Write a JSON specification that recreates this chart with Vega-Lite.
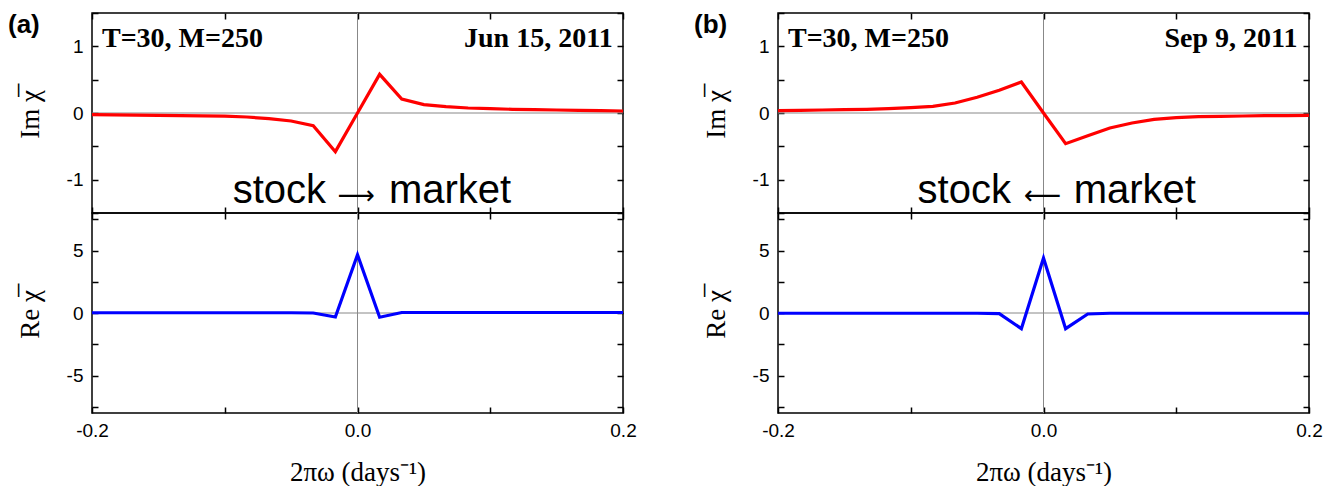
{
  "$schema": "https://vega.github.io/schema/vega-lite/v6.json",
  "padding": {"left": 7, "top": 3, "right": 0, "bottom": 0},
  "background": "white",
  "datasets": {
    "one": [{}],
    "imA": [
      {"w": -0.2, "v": -0.025}, {"w": -0.18333, "v": -0.028}, {"w": -0.16667, "v": -0.031}, {"w": -0.15, "v": -0.035},
      {"w": -0.13333, "v": -0.038}, {"w": -0.11667, "v": -0.042}, {"w": -0.1, "v": -0.047}, {"w": -0.08333, "v": -0.06},
      {"w": -0.06667, "v": -0.085}, {"w": -0.05, "v": -0.12}, {"w": -0.03333, "v": -0.19}, {"w": -0.01667, "v": -0.58},
      {"w": 0, "v": 0}, {"w": 0.01667, "v": 0.58}, {"w": 0.03333, "v": 0.21}, {"w": 0.05, "v": 0.125},
      {"w": 0.06667, "v": 0.095}, {"w": 0.08333, "v": 0.075}, {"w": 0.1, "v": 0.065}, {"w": 0.11667, "v": 0.055},
      {"w": 0.13333, "v": 0.05}, {"w": 0.15, "v": 0.045}, {"w": 0.16667, "v": 0.04}, {"w": 0.18333, "v": 0.035},
      {"w": 0.2, "v": 0.03}
    ],
    "reA": [
      {"w": -0.2, "v": 0.02}, {"w": -0.18333, "v": 0.02}, {"w": -0.16667, "v": 0.02}, {"w": -0.15, "v": 0.02},
      {"w": -0.13333, "v": 0.02}, {"w": -0.11667, "v": 0.02}, {"w": -0.1, "v": 0.02}, {"w": -0.08333, "v": 0.02},
      {"w": -0.06667, "v": 0.02}, {"w": -0.05, "v": 0.02}, {"w": -0.03333, "v": 0.0}, {"w": -0.01667, "v": -0.32},
      {"w": 0, "v": 4.66}, {"w": 0.01667, "v": -0.34}, {"w": 0.03333, "v": 0.04}, {"w": 0.05, "v": 0.04},
      {"w": 0.06667, "v": 0.04}, {"w": 0.08333, "v": 0.04}, {"w": 0.1, "v": 0.04}, {"w": 0.11667, "v": 0.04},
      {"w": 0.13333, "v": 0.04}, {"w": 0.15, "v": 0.04}, {"w": 0.16667, "v": 0.04}, {"w": 0.18333, "v": 0.04},
      {"w": 0.2, "v": 0.04}
    ],
    "imB": [
      {"w": -0.2, "v": 0.035}, {"w": -0.18333, "v": 0.04}, {"w": -0.16667, "v": 0.045}, {"w": -0.15, "v": 0.05},
      {"w": -0.13333, "v": 0.055}, {"w": -0.11667, "v": 0.065}, {"w": -0.1, "v": 0.08}, {"w": -0.08333, "v": 0.1},
      {"w": -0.06667, "v": 0.15}, {"w": -0.05, "v": 0.235}, {"w": -0.03333, "v": 0.34}, {"w": -0.01667, "v": 0.465},
      {"w": 0, "v": 0}, {"w": 0.01667, "v": -0.46}, {"w": 0.03333, "v": -0.34}, {"w": 0.05, "v": -0.225},
      {"w": 0.06667, "v": -0.15}, {"w": 0.08333, "v": -0.095}, {"w": 0.1, "v": -0.07}, {"w": 0.11667, "v": -0.055},
      {"w": 0.13333, "v": -0.05}, {"w": 0.15, "v": -0.045}, {"w": 0.16667, "v": -0.04}, {"w": 0.18333, "v": -0.04},
      {"w": 0.2, "v": -0.035}
    ],
    "reB": [
      {"w": -0.2, "v": -0.02}, {"w": -0.18333, "v": -0.02}, {"w": -0.16667, "v": -0.02}, {"w": -0.15, "v": -0.02},
      {"w": -0.13333, "v": -0.02}, {"w": -0.11667, "v": -0.02}, {"w": -0.1, "v": -0.02}, {"w": -0.08333, "v": -0.02},
      {"w": -0.06667, "v": -0.02}, {"w": -0.05, "v": -0.02}, {"w": -0.03333, "v": -0.05}, {"w": -0.01667, "v": -1.25},
      {"w": 0, "v": 4.4}, {"w": 0.01667, "v": -1.25}, {"w": 0.03333, "v": -0.08}, {"w": 0.05, "v": -0.02},
      {"w": 0.06667, "v": -0.02}, {"w": 0.08333, "v": -0.02}, {"w": 0.1, "v": -0.02}, {"w": 0.11667, "v": -0.02},
      {"w": 0.13333, "v": -0.02}, {"w": 0.15, "v": -0.02}, {"w": 0.16667, "v": -0.02}, {"w": 0.18333, "v": -0.02},
      {"w": 0.2, "v": -0.02}
    ]
  },
  "columns": 2,
  "spacing": {"row": 0, "column": 155},
  "bounds": "flush",
  "concat": [
    {
      "width": 531, "height": 200,
      "resolve": {"axis": {"x": "independent", "y": "independent"}},
      "layer": [
        {"data": {"name": "one"}, "mark": {"type": "rule", "color": "#888888", "strokeWidth": 1},
         "encoding": {"x": {"datum": 0, "type": "quantitative", "scale": {"domain": [-0.2, 0.2], "nice": false, "zero": false},
           "axis": {"orient": "top", "values": [-0.2, -0.1, 0, 0.1, 0.2], "labels": false, "title": null}}}},
        {"data": {"name": "one"}, "mark": {"type": "rule", "color": "#888888", "strokeWidth": 1},
         "encoding": {"y": {"datum": 0, "type": "quantitative", "scale": {"domain": [-1.5, 1.5], "nice": false, "zero": false},
           "axis": {"orient": "right", "values": [-1.5, -1, -0.5, 0, 0.5, 1, 1.5], "labels": false, "title": null}}}},
        {"data": {"name": "imA"}, "mark": {"type": "line", "color": "#ff0000", "strokeWidth": 3.2},
         "encoding": {
           "x": {"field": "w", "type": "quantitative", "scale": {"domain": [-0.2, 0.2], "nice": false, "zero": false},
             "axis": {"orient": "bottom", "values": [-0.2, -0.1, 0, 0.1, 0.2], "labels": false, "title": null}},
           "y": {"field": "v", "type": "quantitative", "scale": {"domain": [-1.5, 1.5], "nice": false, "zero": false},
             "axis": {"orient": "left", "values": [-1.5, -1, -0.5, 0, 0.5, 1, 1.5],
               "labelExpr": "datum.value == 1 ? '1' : datum.value == 0 ? '0' : datum.value == -1 ? '-1' : ''",
               "title": "Im χ̅", "titleX": -62, "titleY": 101, "titleBaseline": "middle", "titleAlign": "center"}}}},
        {"data": {"name": "one"}, "mark": {"type": "text", "text": "(a)", "font": "Liberation Sans", "fontWeight": "bold", "fontSize": 26, "align": "left", "baseline": "alphabetic", "color": "#000"},
         "encoding": {"x": {"datum": -0.2633, "type": "quantitative", "axis": null, "scale": {"domain": [-0.2, 0.2], "nice": false, "zero": false}},
                      "y": {"datum": 1.2, "type": "quantitative", "axis": null, "scale": {"domain": [-1.5, 1.5], "nice": false, "zero": false}}}},
        {"data": {"name": "one"}, "mark": {"type": "text", "text": "T=30, M=250", "font": "Liberation Serif", "fontWeight": "bold", "fontSize": 28, "align": "left", "baseline": "alphabetic", "color": "#000"},
         "encoding": {"x": {"datum": -0.1925, "type": "quantitative", "axis": null, "scale": {"domain": [-0.2, 0.2], "nice": false, "zero": false}},
                      "y": {"datum": 0.995, "type": "quantitative", "axis": null, "scale": {"domain": [-1.5, 1.5], "nice": false, "zero": false}}}},
        {"data": {"name": "one"}, "mark": {"type": "text", "text": "Jun 15, 2011", "font": "Liberation Serif", "fontWeight": "bold", "fontSize": 28, "align": "right", "baseline": "alphabetic", "color": "#000"},
         "encoding": {"x": {"datum": 0.1922, "type": "quantitative", "axis": null, "scale": {"domain": [-0.2, 0.2], "nice": false, "zero": false}},
                      "y": {"datum": 0.995, "type": "quantitative", "axis": null, "scale": {"domain": [-1.5, 1.5], "nice": false, "zero": false}}}},
        {"data": {"name": "one"}, "mark": {"type": "text", "text": "stock", "font": "Liberation Sans", "fontSize": 40, "align": "right", "baseline": "alphabetic", "color": "#000"},
         "encoding": {"x": {"datum": -0.0237, "type": "quantitative", "axis": null, "scale": {"domain": [-0.2, 0.2], "nice": false, "zero": false}},
                      "y": {"datum": -1.35, "type": "quantitative", "axis": null, "scale": {"domain": [-1.5, 1.5], "nice": false, "zero": false}}}},
        {"data": {"name": "one"}, "mark": {"type": "text", "text": "⟶", "font": "DejaVu Sans", "fontSize": 26, "align": "center", "baseline": "alphabetic", "color": "#000"},
         "encoding": {"x": {"datum": -0.0011, "type": "quantitative", "axis": null, "scale": {"domain": [-0.2, 0.2], "nice": false, "zero": false}},
                      "y": {"datum": -1.37, "type": "quantitative", "axis": null, "scale": {"domain": [-1.5, 1.5], "nice": false, "zero": false}}}},
        {"data": {"name": "one"}, "mark": {"type": "text", "text": "market", "font": "Liberation Sans", "fontSize": 40, "align": "left", "baseline": "alphabetic", "color": "#000"},
         "encoding": {"x": {"datum": 0.0237, "type": "quantitative", "axis": null, "scale": {"domain": [-0.2, 0.2], "nice": false, "zero": false}},
                      "y": {"datum": -1.35, "type": "quantitative", "axis": null, "scale": {"domain": [-1.5, 1.5], "nice": false, "zero": false}}}}
      ]
    },
    {
      "width": 531, "height": 200,
      "resolve": {"axis": {"x": "independent", "y": "independent"}},
      "layer": [
        {"data": {"name": "one"}, "mark": {"type": "rule", "color": "#888888", "strokeWidth": 1},
         "encoding": {"x": {"datum": 0, "type": "quantitative", "scale": {"domain": [-0.2, 0.2], "nice": false, "zero": false},
           "axis": {"orient": "top", "values": [-0.2, -0.1, 0, 0.1, 0.2], "labels": false, "title": null}}}},
        {"data": {"name": "one"}, "mark": {"type": "rule", "color": "#888888", "strokeWidth": 1},
         "encoding": {"y": {"datum": 0, "type": "quantitative", "scale": {"domain": [-1.5, 1.5], "nice": false, "zero": false},
           "axis": {"orient": "right", "values": [-1.5, -1, -0.5, 0, 0.5, 1, 1.5], "labels": false, "title": null}}}},
        {"data": {"name": "imB"}, "mark": {"type": "line", "color": "#ff0000", "strokeWidth": 3.2},
         "encoding": {
           "x": {"field": "w", "type": "quantitative", "scale": {"domain": [-0.2, 0.2], "nice": false, "zero": false},
             "axis": {"orient": "bottom", "values": [-0.2, -0.1, 0, 0.1, 0.2], "labels": false, "title": null}},
           "y": {"field": "v", "type": "quantitative", "scale": {"domain": [-1.5, 1.5], "nice": false, "zero": false},
             "axis": {"orient": "left", "values": [-1.5, -1, -0.5, 0, 0.5, 1, 1.5],
               "labelExpr": "datum.value == 1 ? '1' : datum.value == 0 ? '0' : datum.value == -1 ? '-1' : ''",
               "title": "Im χ̅", "titleX": -62, "titleY": 101, "titleBaseline": "middle", "titleAlign": "center"}}}},
        {"data": {"name": "one"}, "mark": {"type": "text", "text": "(b)", "font": "Liberation Sans", "fontWeight": "bold", "fontSize": 26, "align": "left", "baseline": "alphabetic", "color": "#000"},
         "encoding": {"x": {"datum": -0.2633, "type": "quantitative", "axis": null, "scale": {"domain": [-0.2, 0.2], "nice": false, "zero": false}},
                      "y": {"datum": 1.2, "type": "quantitative", "axis": null, "scale": {"domain": [-1.5, 1.5], "nice": false, "zero": false}}}},
        {"data": {"name": "one"}, "mark": {"type": "text", "text": "T=30, M=250", "font": "Liberation Serif", "fontWeight": "bold", "fontSize": 28, "align": "left", "baseline": "alphabetic", "color": "#000"},
         "encoding": {"x": {"datum": -0.1925, "type": "quantitative", "axis": null, "scale": {"domain": [-0.2, 0.2], "nice": false, "zero": false}},
                      "y": {"datum": 0.995, "type": "quantitative", "axis": null, "scale": {"domain": [-1.5, 1.5], "nice": false, "zero": false}}}},
        {"data": {"name": "one"}, "mark": {"type": "text", "text": "Sep 9, 2011", "font": "Liberation Serif", "fontWeight": "bold", "fontSize": 28, "align": "right", "baseline": "alphabetic", "color": "#000"},
         "encoding": {"x": {"datum": 0.1913, "type": "quantitative", "axis": null, "scale": {"domain": [-0.2, 0.2], "nice": false, "zero": false}},
                      "y": {"datum": 0.995, "type": "quantitative", "axis": null, "scale": {"domain": [-1.5, 1.5], "nice": false, "zero": false}}}},
        {"data": {"name": "one"}, "mark": {"type": "text", "text": "stock", "font": "Liberation Sans", "fontSize": 40, "align": "right", "baseline": "alphabetic", "color": "#000"},
         "encoding": {"x": {"datum": -0.0245, "type": "quantitative", "axis": null, "scale": {"domain": [-0.2, 0.2], "nice": false, "zero": false}},
                      "y": {"datum": -1.35, "type": "quantitative", "axis": null, "scale": {"domain": [-1.5, 1.5], "nice": false, "zero": false}}}},
        {"data": {"name": "one"}, "mark": {"type": "text", "text": "⟵", "font": "DejaVu Sans", "fontSize": 26, "align": "center", "baseline": "alphabetic", "color": "#000"},
         "encoding": {"x": {"datum": -0.0008, "type": "quantitative", "axis": null, "scale": {"domain": [-0.2, 0.2], "nice": false, "zero": false}},
                      "y": {"datum": -1.37, "type": "quantitative", "axis": null, "scale": {"domain": [-1.5, 1.5], "nice": false, "zero": false}}}},
        {"data": {"name": "one"}, "mark": {"type": "text", "text": "market", "font": "Liberation Sans", "fontSize": 40, "align": "left", "baseline": "alphabetic", "color": "#000"},
         "encoding": {"x": {"datum": 0.0227, "type": "quantitative", "axis": null, "scale": {"domain": [-0.2, 0.2], "nice": false, "zero": false}},
                      "y": {"datum": -1.35, "type": "quantitative", "axis": null, "scale": {"domain": [-1.5, 1.5], "nice": false, "zero": false}}}}
      ]
    },
    {
      "width": 531, "height": 200,
      "resolve": {"axis": {"x": "independent", "y": "independent"}},
      "layer": [
        {"data": {"name": "one"}, "mark": {"type": "rule", "color": "#888888", "strokeWidth": 1},
         "encoding": {"x": {"datum": 0, "type": "quantitative", "scale": {"domain": [-0.2, 0.2], "nice": false, "zero": false},
           "axis": {"orient": "top", "values": [-0.2, -0.1, 0, 0.1, 0.2], "labels": false, "title": null}}}},
        {"data": {"name": "one"}, "mark": {"type": "rule", "color": "#888888", "strokeWidth": 1},
         "encoding": {"y": {"datum": 0, "type": "quantitative", "scale": {"domain": [-8, 8], "nice": false, "zero": false},
           "axis": {"orient": "right", "values": [-7.5, -5, -2.5, 0, 2.5, 5, 7.5], "labels": false, "title": null}}}},
        {"data": {"name": "reA"}, "mark": {"type": "line", "color": "#0000ff", "strokeWidth": 3.2},
         "encoding": {
           "x": {"field": "w", "type": "quantitative", "scale": {"domain": [-0.2, 0.2], "nice": false, "zero": false},
             "axis": {"orient": "bottom", "values": [-0.2, -0.1, 0, 0.1, 0.2],
               "labelExpr": "datum.value == -0.2 ? '-0.2' : datum.value == 0 ? '0.0' : datum.value == 0.2 ? '0.2' : ''",
               "title": "2πω (days⁻¹)", "titleX": 265.5, "titleY": 59, "titleBaseline": "middle", "titleAlign": "center"}},
           "y": {"field": "v", "type": "quantitative", "scale": {"domain": [-8, 8], "nice": false, "zero": false},
             "axis": {"orient": "left", "values": [-7.5, -5, -2.5, 0, 2.5, 5, 7.5],
               "labelExpr": "datum.value == 5 ? '5' : datum.value == 0 ? '0' : datum.value == -5 ? '-5' : ''",
               "title": "Re χ̅", "titleX": -62, "titleY": 101, "titleBaseline": "middle", "titleAlign": "center"}}}}
      ]
    },
    {
      "width": 531, "height": 200,
      "resolve": {"axis": {"x": "independent", "y": "independent"}},
      "layer": [
        {"data": {"name": "one"}, "mark": {"type": "rule", "color": "#888888", "strokeWidth": 1},
         "encoding": {"x": {"datum": 0, "type": "quantitative", "scale": {"domain": [-0.2, 0.2], "nice": false, "zero": false},
           "axis": {"orient": "top", "values": [-0.2, -0.1, 0, 0.1, 0.2], "labels": false, "title": null}}}},
        {"data": {"name": "one"}, "mark": {"type": "rule", "color": "#888888", "strokeWidth": 1},
         "encoding": {"y": {"datum": 0, "type": "quantitative", "scale": {"domain": [-8, 8], "nice": false, "zero": false},
           "axis": {"orient": "right", "values": [-7.5, -5, -2.5, 0, 2.5, 5, 7.5], "labels": false, "title": null}}}},
        {"data": {"name": "reB"}, "mark": {"type": "line", "color": "#0000ff", "strokeWidth": 3.2},
         "encoding": {
           "x": {"field": "w", "type": "quantitative", "scale": {"domain": [-0.2, 0.2], "nice": false, "zero": false},
             "axis": {"orient": "bottom", "values": [-0.2, -0.1, 0, 0.1, 0.2],
               "labelExpr": "datum.value == -0.2 ? '-0.2' : datum.value == 0 ? '0.0' : datum.value == 0.2 ? '0.2' : ''",
               "title": "2πω (days⁻¹)", "titleX": 265.5, "titleY": 59, "titleBaseline": "middle", "titleAlign": "center"}},
           "y": {"field": "v", "type": "quantitative", "scale": {"domain": [-8, 8], "nice": false, "zero": false},
             "axis": {"orient": "left", "values": [-7.5, -5, -2.5, 0, 2.5, 5, 7.5],
               "labelExpr": "datum.value == 5 ? '5' : datum.value == 0 ? '0' : datum.value == -5 ? '-5' : ''",
               "title": "Re χ̅", "titleX": -62, "titleY": 101, "titleBaseline": "middle", "titleAlign": "center"}}}}
      ]
    }
  ],
  "config": {
    "view": {"stroke": "#000000", "strokeWidth": 1.5},
    "axis": {
      "grid": false, "domain": false, "ticks": true,
      "tickColor": "#000000", "tickWidth": 1.5, "tickSize": -6,
      "labelFont": "Liberation Sans", "labelFontSize": 19, "labelColor": "#000000",
      "labelFlush": false, "labelOverlap": false,
      "titleFont": "Liberation Serif", "titleFontSize": 27, "titleFontWeight": "normal", "titleColor": "#000000"
    },
    "axisX": {"labelPadding": 14},
    "axisY": {"labelPadding": 15}
  }
}
